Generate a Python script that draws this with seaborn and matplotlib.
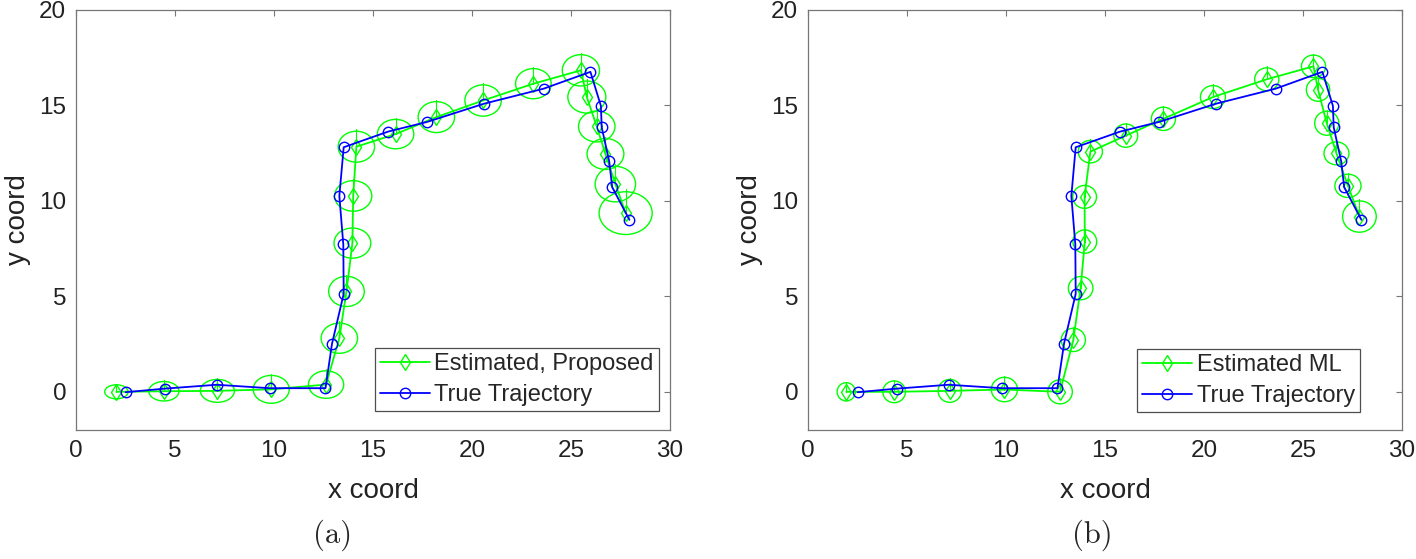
import numpy as np
import matplotlib
matplotlib.use("Agg")
import matplotlib.pyplot as plt
from matplotlib.patches import Ellipse
import seaborn as sns

# true trajectory (same in both panels)
true_x = [2.5, 4.52, 7.1, 9.78, 12.6, 12.93, 13.52, 13.5, 13.3, 13.52,
          15.76, 17.74, 20.6, 23.62, 25.98, 26.51, 26.55, 26.93, 27.08, 27.95]
true_y = [-0.02, 0.17, 0.37, 0.19, 0.19, 2.52, 5.13, 7.73, 10.26, 12.81,
          13.63, 14.14, 15.09, 15.88, 16.76, 14.98, 13.86, 12.07, 10.72, 9.01]

# (a) proposed estimator
prop_x = [2.04, 4.44, 7.14, 9.86, 12.63, 13.3, 13.66, 13.96, 14.0, 14.16,
          16.14, 18.2, 20.56, 23.1, 25.5, 25.8, 26.3, 26.74, 27.24, 27.76]
prop_y = [0.0, 0.03, 0.05, 0.13, 0.38, 2.81, 5.26, 7.79, 10.26, 12.84,
          13.5, 14.39, 15.26, 16.14, 16.84, 15.44, 13.9, 12.46, 10.88, 9.36]
prop_rx = [0.59, 0.76, 0.86, 0.91, 0.89, 0.92, 0.9, 0.93, 0.94, 0.92,
           0.92, 0.92, 0.92, 0.9, 0.94, 0.96, 0.92, 0.93, 1.02, 1.34]
prop_ry = [0.37, 0.51, 0.6, 0.73, 0.72, 0.79, 0.79, 0.79, 0.8, 0.81,
           0.77, 0.81, 0.82, 0.79, 0.82, 0.84, 0.81, 0.81, 0.93, 1.12]

# (b) ML estimator
ml_x = [1.93, 4.35, 7.16, 9.92, 12.73, 13.4, 13.77, 13.98, 13.97, 14.26,
        16.05, 17.95, 20.45, 23.17, 25.53, 25.76, 26.2, 26.69, 27.27, 27.85]
ml_y = [0.0, 0.0, 0.05, 0.12, 0.0, 2.72, 5.43, 7.87, 10.21, 12.58,
        13.42, 14.3, 15.44, 16.37, 17.05, 15.82, 14.07, 12.49, 10.79, 9.18]
ml_rx = [0.46, 0.57, 0.59, 0.66, 0.62, 0.61, 0.62, 0.6, 0.6, 0.61,
         0.6, 0.61, 0.63, 0.61, 0.61, 0.59, 0.61, 0.63, 0.66, 0.85]
ml_ry = [0.48, 0.57, 0.6, 0.64, 0.63, 0.61, 0.61, 0.61, 0.6, 0.59,
         0.61, 0.61, 0.6, 0.6, 0.59, 0.6, 0.63, 0.6, 0.61, 0.82]

GREEN = (0, 1, 0)
BLUE = (0, 0, 1)

sns.set_theme(style="white")
plt.rcParams['font.family'] = ['Liberation Sans', 'DejaVu Sans']
plt.rcParams['axes.edgecolor'] = '#777777'
plt.rcParams['axes.linewidth'] = 0.9


def draw_panel(ax, est_x, est_y, rx, ry, est_label, legend_anchor):
    # error ellipses with the little vertical stroke from centre to top
    for cx, cy, a, b in zip(est_x, est_y, rx, ry):
        ax.add_patch(Ellipse((cx, cy), 2 * a, 2 * b, fill=False,
                             edgecolor=GREEN, lw=1.0, zorder=2))
        ax.plot([cx, cx], [cy, cy + 1.12 * b], color=GREEN, lw=0.8, zorder=2)
    sns.lineplot(x=est_x, y=est_y, sort=False, estimator=None, ax=ax,
                 color=GREEN, lw=1.3, marker='d', markersize=8.5,
                 markerfacecolor='none', markeredgecolor=GREEN,
                 markeredgewidth=1.0, label=est_label, zorder=3)
    sns.lineplot(x=true_x, y=true_y, sort=False, estimator=None, ax=ax,
                 color=BLUE, lw=1.3, marker='o', markersize=7.5,
                 markerfacecolor='none', markeredgecolor=BLUE,
                 markeredgewidth=1.0, label='True Trajectory', zorder=4)
    ax.set_xlim(0, 30)
    ax.set_ylim(-2, 20)
    ax.set_xticks(np.arange(0, 31, 5))
    ax.set_yticks(np.arange(0, 21, 5))
    ax.tick_params(direction='in', length=4, width=0.8, color='#777777',
                   top=True, right=True, labelsize=17.5, labelcolor='#222222',
                   pad=7)
    ax.set_xlabel('x coord', fontsize=20, color='#222222', labelpad=12)
    ax.set_ylabel('y coord', fontsize=20, color='#222222', labelpad=6)
    for s in ax.spines.values():
        s.set_visible(True)
    leg = ax.legend(loc='lower right', bbox_to_anchor=legend_anchor,
                    borderaxespad=0, fontsize=17, frameon=True, fancybox=False,
                    handlelength=2.1, handletextpad=0.2, borderpad=0.22,
                    labelspacing=0.38)
    leg.get_frame().set_edgecolor('#222222')
    leg.get_frame().set_linewidth(0.9)


fig = plt.figure(figsize=(14.16, 5.59), dpi=100)
ax1 = fig.add_axes([76 / 1416, 129 / 559, 594 / 1416, 420 / 559])
ax2 = fig.add_axes([808 / 1416, 129 / 559, 594 / 1416, 420 / 559])

draw_panel(ax1, prop_x, prop_y, prop_rx, prop_ry, 'Estimated, Proposed',
           (1 - 11 / 594, 19 / 420))
draw_panel(ax2, ml_x, ml_y, ml_rx, ml_ry, 'Estimated ML',
           (1 - 42 / 594, 18 / 420))

fig.text(333 / 1416, 1 - 535 / 559, '(a)', family=['cmr10', 'DejaVu Serif'],
         fontsize=22, ha='center', va='center')
fig.text(1092 / 1416, 1 - 535 / 559, '(b)', family=['cmr10', 'DejaVu Serif'],
         fontsize=22, ha='center', va='center')

fig.savefig('out.png', dpi=100)
